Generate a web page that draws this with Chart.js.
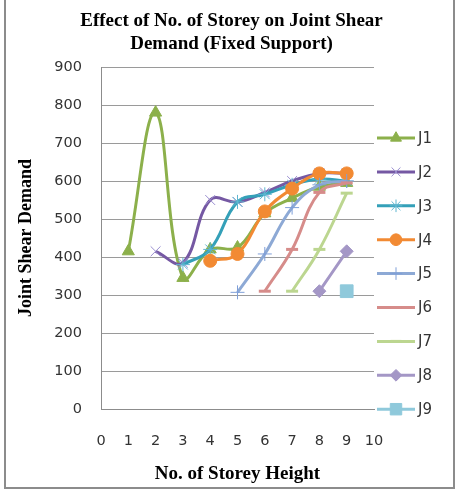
<!DOCTYPE html>
<html>
<head>
<meta charset="utf-8">
<script src="https://cdn.jsdelivr.net/npm/chart.js@4"></script>
<style>
  body { margin: 0; background: #fff; }
  #wrap { position: relative; width: 463px; height: 491px; }
  #frame { position: absolute; left: 4px; top: -2px; width: 447px; height: 487px; border: 2px solid #8c8c8c; }
  canvas { position: absolute; left: 0; top: 0; }
</style>
</head>
<body>
<div id="wrap">
  <div id="frame"></div>
  <canvas id="chart" width="463" height="491"></canvas>
</div>
<script>
// Storey numbers on the x axis and joint shear demand per joint
const storeys = [1, 2, 3, 4, 5, 6, 7, 8, 9];
const joints = ['J1', 'J2', 'J3', 'J4', 'J5', 'J6', 'J7', 'J8', 'J9'];
const j1 = [415, 780, 345, 420, 425, 515, 555, 585, 595];
const j2 = [null, 415, 385, 550, 545, 570, 600, 620, 620];
const j3 = [null, null, 380, 420, 545, 565, 590, 605, 600];
const j4 = [null, null, null, 390, 408, 520, 580, 620, 620];
const j5 = [null, null, null, null, 307, 408, 530, 590, 600];
const j6 = [null, null, null, null, null, 310, 420, 570, 595];
const j7 = [null, null, null, null, null, null, 310, 420, 568];
const j8 = [null, null, null, null, null, null, null, 310, 415];
const j9 = [null, null, null, null, null, null, null, null, 310];
const xTicks = [0, 1, 2, 3, 4, 5, 6, 7, 8, 9, 10];
const yTicks = [0, 100, 200, 300, 400, 500, 600, 700, 800, 900];

const series = [j1, j2, j3, j4, j5, j6, j7, j8, j9];
const colors = ['#8cb04b', '#7558a3', '#34a0b8', '#f28a33', '#8da9d5', '#d68c8a', '#bcd690', '#a497c6', '#8fc9db'];
const markColors = ['#8cb04b', '#9a8fd0', '#5fb6d0', '#f28a33', '#7f9fd8', '#d68c8a', '#bcd690', '#a497c6', '#8fc9db'];
const markers = ['triangle', 'crossRot', 'star', 'circle', 'cross', 'line', 'line', 'rectRot', 'rect'];
const radii = [7, 7, 7, 6.5, 7, 6, 6, 6.5, 9];
const markWidths = [1, 1, 1, 1, 1, 3, 3, 1, 1];

const serif = 'Liberation Serif';
const sans = 'DejaVu Sans';

const datasets = series.map((vals, i) => ({
    label: joints[i],
    data: storeys.map((s, k) => ({ x: s, y: vals[k] })).filter(p => p.y !== null),
    borderColor: colors[i],
    backgroundColor: markColors[i],
    pointStyle: markers[i],
    pointRadius: radii[i],
    pointBorderColor: markColors[i],
    pointBackgroundColor: markColors[i],
    pointBorderWidth: markWidths[i],
    borderWidth: 3,
    tension: 0.4,
    yAxisID: 'y',
    order: series.length - i // later joints drawn on top, like Excel
}));

// Legend drawn by hand: line with marker, like the spreadsheet legend
const sideLegend = {
    id: 'sideLegend',
    afterDraw(chart) {
        const ctx = chart.ctx;
        ctx.save();
        datasets.forEach((ds, i) => {
            const y = 138 + i * 33.9;
            ctx.strokeStyle = colors[i];
            ctx.lineWidth = 3;
            ctx.beginPath();
            ctx.moveTo(377, y);
            ctx.lineTo(415, y);
            ctx.stroke();
            ctx.strokeStyle = markColors[i];
            ctx.fillStyle = markColors[i];
            ctx.lineWidth = markWidths[i];
            Chart.helpers.drawPoint(ctx, { pointStyle: markers[i], radius: radii[i] * 0.9, borderWidth: markWidths[i], rotation: 0 }, 396, y);
            ctx.fillStyle = '#333';
            ctx.font = '15px "' + sans + '"';
            ctx.textBaseline = 'middle';
            ctx.textAlign = 'left';
            ctx.fillText(ds.label, 418, y + 1);
        });
        ctx.restore();
    }
};

new Chart(document.getElementById('chart').getContext('2d'), {
    type: 'line',
    data: { datasets: datasets },
    options: {
        responsive: false,
        animation: false,
        layout: { padding: 0 },
        plugins: {
            legend: { display: false },
            tooltip: { enabled: false },
            title: {
                display: true,
                text: ['Effect of No. of Storey on Joint Shear', 'Demand (Fixed Support)'],
                color: '#000',
                font: { family: serif, size: 19, weight: 'bold', lineHeight: '23px' },
                padding: { top: 10, bottom: 11 }
            }
        },
        scales: {
            x: {
                type: 'linear',
                min: 0,
                max: 10,
                afterBuildTicks: scale => { scale.ticks = xTicks.map(v => ({ value: v })); },
                afterFit: scale => { scale.height = 82; },
                grid: { display: false, drawTicks: false },
                border: { display: true, color: '#8c8c8c', width: 1 },
                ticks: { color: '#333', font: { family: sans, size: 14.5 }, padding: 24, maxRotation: 0 },
                title: {
                    display: true,
                    text: 'No. of Storey Height',
                    color: '#000',
                    font: { family: serif, size: 19, weight: 'bold' },
                    padding: { top: 4, bottom: 6 }
                }
            },
            y: {
                min: 0,
                max: 900,
                afterBuildTicks: scale => { scale.ticks = yTicks.map(v => ({ value: v })); },
                afterFit: scale => { scale.width = 101; },
                grid: { color: '#9a9a9a', drawTicks: false },
                border: { display: true, color: '#8c8c8c', width: 1 },
                ticks: { color: '#333', font: { family: sans, size: 14.5 }, padding: 19 },
                title: {
                    display: true,
                    text: 'Joint Shear Demand',
                    color: '#000',
                    font: { family: serif, size: 18, weight: 'bold' },
                    padding: { top: 16, bottom: 4 }
                }
            },
            // empty right-hand axis that only reserves room for the legend
            legendRoom: {
                type: 'linear',
                position: 'right',
                display: true,
                afterFit: scale => { scale.width = 89; },
                grid: { display: false, drawTicks: false },
                border: { display: false },
                ticks: { display: false }
            }
        }
    },
    plugins: [sideLegend]
});
</script>
</body>
</html>
